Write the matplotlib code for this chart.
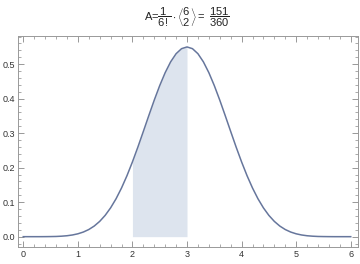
import matplotlib
matplotlib.use("Agg")
import matplotlib.pyplot as plt
import numpy as np
from matplotlib.ticker import MultipleLocator, FormatStrFormatter

x_vals = [i / 10 for i in range(61)]
density = [0.0000, 0.0000, 0.0000, 0.0000, 0.0001, 0.0003, 0.0006, 0.0014, 0.0027, 0.0049,
           0.0083, 0.0134, 0.0207, 0.0308, 0.0443, 0.0617, 0.0835, 0.1099, 0.1411, 0.1768,
           0.2167, 0.2598, 0.3051, 0.3510, 0.3959, 0.4380, 0.4755, 0.5068, 0.5304, 0.5450,
           0.5500,
           0.5450, 0.5304, 0.5068, 0.4755, 0.4380, 0.3959, 0.3510, 0.3051, 0.2598, 0.2167,
           0.1768, 0.1411, 0.1099, 0.0835, 0.0617, 0.0443, 0.0308, 0.0207, 0.0134, 0.0083,
           0.0049, 0.0027, 0.0014, 0.0006, 0.0003, 0.0001, 0.0000, 0.0000, 0.0000, 0.0000]
shade_from, shade_to = 2.0, 3.0
title = r"A=$\dfrac{1}{6!}\cdot\genfrac{\langle}{\rangle}{0}{0}{6}{2}=\ \dfrac{151}{360}$"

plt.rcParams['mathtext.fontset'] = 'custom'
plt.rcParams['mathtext.rm'] = 'Liberation Sans'
plt.rcParams['mathtext.it'] = 'Liberation Sans'
plt.rcParams['font.family'] = ['Liberation Sans', 'DejaVu Sans']

fig = plt.figure(figsize=(3.6, 2.64), dpi=100)
ax = fig.add_axes([0.051, 0.063, 0.943, 0.801])

xs = np.array(x_vals)
ys = np.array(density)
mask = (xs >= shade_from - 1e-9) & (xs <= shade_to + 1e-9)
ax.fill_between(xs[mask], 0, ys[mask], color='#dde4ee', linewidth=0)
ax.plot(xs, ys, color='#66769c', linewidth=1.1)

ax.set_xlim(-0.09, 6.13)
ax.set_ylim(-0.031, 0.582)
ax.xaxis.set_major_locator(MultipleLocator(1))
ax.xaxis.set_minor_locator(MultipleLocator(0.2))
ax.yaxis.set_major_locator(MultipleLocator(0.1))
ax.yaxis.set_minor_locator(MultipleLocator(0.02))
ax.yaxis.set_major_formatter(FormatStrFormatter('%.1f'))
ax.tick_params(which='both', direction='in', top=True, right=True, colors='#888888',
               labelcolor='#333333', labelsize=6.5, pad=2)
ax.tick_params(which='major', length=4, width=0.6)
ax.tick_params(which='minor', length=2, width=0.5)
for s in ax.spines.values():
    s.set_color('#999999')
    s.set_linewidth(0.7)

fig.text(0.52, 0.935, title, ha='center', va='center', fontsize=8, color='#222222')

fig.savefig('out.png', dpi=100)
